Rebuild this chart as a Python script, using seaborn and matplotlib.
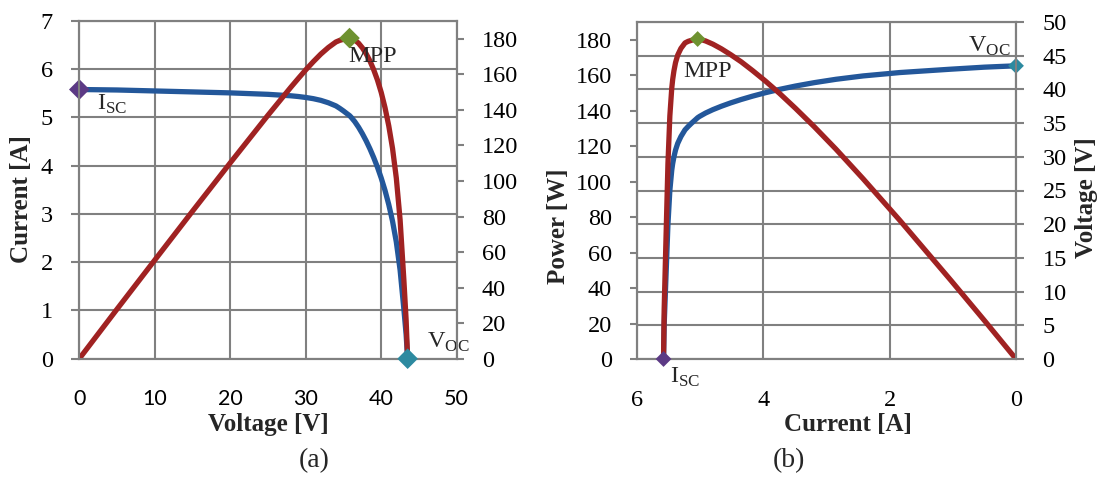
import matplotlib
matplotlib.use("Agg")
import matplotlib.pyplot as plt
import seaborn as sns
import pandas as pd

# ---------------- data ----------------
voltage = [0, 5, 10, 15, 20, 25, 28, 29, 30, 31, 32, 33, 34, 34.5, 35, 35.5, 35.8,
           36, 36.5, 37, 37.5, 38, 38.5, 39, 39.5, 40, 40.5, 41, 41.5, 42, 42.5,
           43, 43.3, 43.5]
current = [5.58, 5.57, 5.55, 5.53, 5.51, 5.48, 5.45, 5.435, 5.415, 5.39, 5.355,
           5.305, 5.24, 5.19, 5.135, 5.075, 5.04, 5.008, 4.913, 4.798, 4.665, 4.517,
           4.352, 4.17, 3.97, 3.745, 3.49, 3.195, 2.85, 2.42, 1.84, 1.03, 0.50, 0.0]
power = [0, 27.9, 55.5, 83.0, 110.2, 137.0, 152.6, 157.6, 162.5, 167.1, 171.4,
         175.1, 178.2, 179.1, 179.7, 180.2, 180.4, 180.3, 179.3, 177.5, 174.9, 171.6,
         167.6, 162.6, 156.8, 149.8, 141.3, 131.0, 118.3, 101.6, 78.2, 44.3, 21.7, 0]

isc = 5.58
voc = 43.5
mpp_v = 35.8
mpp_i = 5.04
mpp_p = 180.4

a_xticks = [0, 10, 20, 30, 40, 50]
a_yticks = [0, 1, 2, 3, 4, 5, 6, 7]
p_ticks = [0, 20, 40, 60, 80, 100, 120, 140, 160, 180]
b_xticks = [6, 4, 2, 0]
b_vticks = [0, 5, 10, 15, 20, 25, 30, 35, 40, 45, 50]

df = pd.DataFrame({"V": voltage, "I": current, "P": power})

# ---------------- style ----------------
sns.set_theme(style="white")
plt.rcParams["font.family"] = ["Liberation Serif", "DejaVu Serif"]
plt.rcParams["mathtext.fontset"] = "custom"
plt.rcParams["mathtext.rm"] = "Liberation Serif"

BLUE = "#23579A"
RED = "#A02222"
PURPLE = "#5C3A85"
GREEN = "#6E9230"
TEAL = "#2D8AA0"
GRID = "#808080"
FS = 17.5

W, H = 1101, 478
fig = plt.figure(figsize=(W / 100, H / 100), dpi=100)


def box(x0, x1, y0, y1):
    return [x0 / W, 1 - y1 / H, (x1 - x0) / W, (y1 - y0) / H]


def style_axis(ax):
    for s in ax.spines.values():
        s.set_color(GRID)
        s.set_linewidth(1.5)
    ax.tick_params(direction="out", length=5, width=1.5, color=GRID,
                   labelsize=FS, labelcolor="black")
    ax.set_xlabel("")
    ax.set_ylabel("")


# ---------------- panel (a) ----------------
axA = fig.add_axes(box(79.3, 456.7, 21, 358.7))
axA.set_facecolor("none")
axA2 = axA.twinx()

sns.lineplot(data=df, x="V", y="I", ax=axA, color=BLUE, lw=3.8, sort=False,
             estimator=None)
sns.lineplot(data=df, x="V", y="P", ax=axA2, color=RED, lw=3.8, sort=False,
             estimator=None)
sns.scatterplot(x=[0], y=[isc], ax=axA, marker="D", s=110, color=PURPLE,
                edgecolor="none", clip_on=False, zorder=5)
sns.scatterplot(x=[mpp_v], y=[mpp_p], ax=axA2, marker="D", s=110, color=GREEN,
                edgecolor="none", clip_on=False, zorder=5)
sns.scatterplot(x=[voc], y=[0], ax=axA2, marker="D", s=110, color=TEAL,
                edgecolor="none", clip_on=False, zorder=5)

axA.set_xlim(0, 50)
axA.set_ylim(0, 7)
axA2.set_ylim(0, 190)
axA.set_xticks(a_xticks)
axA.set_yticks(a_yticks)
axA2.set_yticks(p_ticks)
style_axis(axA)
style_axis(axA2)
axA.grid(True, color=GRID, lw=1.5)
axA.set_axisbelow(True)
axA2.grid(False)
axA.tick_params(axis="y", pad=13, length=6)
axA.tick_params(axis="x", pad=16, length=6)
axA2.tick_params(axis="y", pad=13, length=5)
for lab in axA.get_xticklabels():
    lab.set_fontfamily("Lato")
    lab.set_fontsize(15.5)

axA.text(2.35, 5.28, r"I$_{\mathrm{SC}}$", fontsize=FS, ha="left", va="center")
axA2.text(35.7, 170.3, "MPP", fontsize=FS, ha="left", va="center")
axA.text(46.0, 0.34, r"V$_{\mathrm{OC}}$", fontsize=FS, ha="left", va="center")

# ---------------- panel (b) ----------------
axB = fig.add_axes(box(637, 1016, 22, 359))
axB.set_facecolor("none")
axB2 = axB.twinx()

# voltage on primary axis (ticks on right), power on twin (ticks on left)
sns.lineplot(data=df, x="I", y="V", ax=axB, color=BLUE, lw=3.8, sort=False,
             estimator=None)
sns.lineplot(data=df, x="I", y="P", ax=axB2, color=RED, lw=3.8, sort=False,
             estimator=None)
sns.scatterplot(x=[isc], y=[0], ax=axB2, marker="D", s=65, color=PURPLE,
                edgecolor="none", clip_on=False, zorder=5)
sns.scatterplot(x=[mpp_i], y=[mpp_p], ax=axB2, marker="D", s=65, color=GREEN,
                edgecolor="none", clip_on=False, zorder=5)
sns.scatterplot(x=[0], y=[voc], ax=axB, marker="D", s=65, color=TEAL,
                edgecolor="none", clip_on=False, zorder=5)

axB.set_xlim(6, 0)
axB.set_ylim(0, 50)
axB2.set_ylim(0, 190)
axB.set_xticks(b_xticks)
axB.set_yticks(b_vticks)
axB2.set_yticks(p_ticks)
axB.yaxis.tick_right()
axB2.yaxis.tick_left()
style_axis(axB)
style_axis(axB2)
axB.grid(True, color=GRID, lw=1.5)
axB.set_axisbelow(True)
axB2.grid(False)
axB.tick_params(axis="y", pad=13, length=6)
axB.tick_params(axis="x", pad=16, length=6)
axB2.tick_params(axis="y", pad=13, length=5)

axB2.text(5.27, 162.3, "MPP", fontsize=FS, ha="left", va="center")
axB2.text(5.48, -10.4, r"I$_{\mathrm{SC}}$", fontsize=FS, ha="left", va="center")
axB.text(0.755, 46.4, r"V$_{\mathrm{OC}}$", fontsize=FS, ha="left", va="center")

# ---------------- labels ----------------
def ftext(px, py, s, **kw):
    fig.text(px / W, 1 - py / H, s, ha="center", va="center", **kw)

ftext(22, 199, "Current [A]", rotation=90, fontsize=18, fontweight="bold")
ftext(268, 425, "Voltage [V]", fontsize=18, fontweight="bold")
ftext(314, 461, "(a)", fontsize=20)
ftext(558, 226, "Power [W]", rotation=90, fontsize=18, fontweight="bold")
ftext(1086, 198, "Voltage [V]", rotation=90, fontsize=18, fontweight="bold")
ftext(848, 425, "Current [A]", fontsize=18, fontweight="bold")
ftext(789, 461, "(b)", fontsize=20)

fig.savefig("out.png", dpi=100, facecolor="white")
